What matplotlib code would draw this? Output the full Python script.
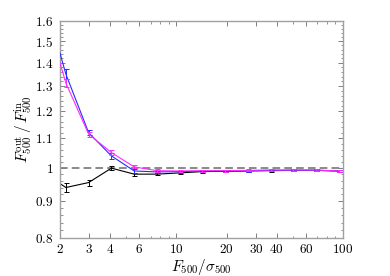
import matplotlib
matplotlib.use("Agg")
import matplotlib.pyplot as plt
from matplotlib.ticker import FixedLocator, FixedFormatter, NullFormatter

plt.rcParams['mathtext.fontset'] = 'cm'
plt.rcParams['font.family'] = 'serif'
plt.rcParams['font.serif'] = ['DejaVu Serif']
plt.rcParams['lines.scale_dashes'] = False

# data
snr = [1.58, 2.17, 2.97, 4.07, 5.58, 7.64, 10.5, 14.3, 19.6, 26.9, 36.8, 50.4, 69.0, 94.5]
ratio_blue = [1.75, 1.35, 1.12, 1.040, 0.991, 0.988, 0.989, 0.990, 0.991, 0.992, 0.993, 0.993, 0.993, 0.991]
err_blue = [0.03, 0.021, 0.009, 0.009, 0.005, 0.004, 0.003, 0.003, 0.003, 0.003, 0.003, 0.003, 0.003, 0.003]
ratio_magenta = [1.685, 1.312, 1.115, 1.051, 1.004, 0.992, 0.991, 0.992, 0.992, 0.993, 0.994, 0.994, 0.994, 0.991]
err_magenta = [0.025, 0.017, 0.009, 0.009, 0.005, 0.004, 0.003, 0.003, 0.003, 0.003, 0.003, 0.003, 0.003, 0.003]
ratio_black = [0.987, 0.94, 0.955, 1.0, 0.981, 0.981, 0.985, 0.989, 0.990, 0.991, 0.992, 0.993, 0.993, 0.991]
err_black = [0.01, 0.013, 0.009, 0.006, 0.005, 0.004, 0.003, 0.003, 0.003, 0.003, 0.003, 0.003, 0.003, 0.003]

xticks_major = [2, 3, 4, 6, 10, 20, 30, 40, 60, 100]
xticks_minor = [5, 7, 8, 9, 50, 70, 80, 90]
yticks_major = [0.8, 0.9, 1.0, 1.1, 1.2, 1.3, 1.4, 1.5, 1.6]
ytick_labels = ['0.8', '0.9', '1', '1.1', '1.2', '1.3', '1.4', '1.5', '1.6']

fig = plt.figure(figsize=(3.9, 2.76), dpi=100)
ax = fig.add_axes([60/390, 38/276, 283/390, 217/276])

ax.axhline(1.0, color='#808080', lw=1.3, dashes=(5.5, 3), zorder=1)

ax.errorbar(snr, ratio_black, yerr=err_black, color='black', lw=0.8,
            elinewidth=0.7, capsize=1.8, capthick=0.7, zorder=2)
ax.errorbar(snr, ratio_blue, yerr=err_blue, color='#2a2aff', lw=0.8,
            elinewidth=0.7, capsize=1.8, capthick=0.7, zorder=3)
ax.errorbar(snr, ratio_magenta, yerr=err_magenta, color='#ff2aff', lw=0.8,
            elinewidth=0.7, capsize=1.8, capthick=0.7, zorder=4)

ax.set_xscale('log')
ax.set_yscale('log')
ax.set_xlim(2, 100)
ax.set_ylim(0.8, 1.6)

ax.xaxis.set_major_locator(FixedLocator(xticks_major))
ax.xaxis.set_major_formatter(FixedFormatter([f'${t}$' for t in xticks_major]))
ax.xaxis.set_minor_locator(FixedLocator(xticks_minor))
ax.xaxis.set_minor_formatter(NullFormatter())

ymin = [round(0.8 + 0.02*i, 2) for i in range(41)]
ymin = [v for v in ymin if all(abs(v - m) > 1e-6 for m in yticks_major)]
ax.yaxis.set_major_locator(FixedLocator(yticks_major))
ax.yaxis.set_major_formatter(FixedFormatter([f'${t}$' for t in ytick_labels]))
ax.yaxis.set_minor_locator(FixedLocator(ymin))
ax.yaxis.set_minor_formatter(NullFormatter())

spine_col = '#a0a0a0'
for s in ax.spines.values():
    s.set_color(spine_col)
    s.set_linewidth(1.0)
ax.tick_params(which='both', direction='in', top=True, right=True,
               color='#808080', labelsize=9.5)
ax.tick_params(axis='x', pad=3.5)
ax.tick_params(axis='y', pad=5)
ax.tick_params(which='major', length=3.5, width=0.7)
ax.tick_params(which='minor', length=1.8, width=0.6)

ax.set_xlabel(r'$F_{500}/\sigma_{500}$', fontsize=11)
ax.set_ylabel(r'$F_{500}^{\rm out}\,/\,F_{500}^{\rm in}$', fontsize=11)
ax.xaxis.set_label_coords(0.5, -0.088)
ax.yaxis.set_label_coords(-0.09, 0.5)

fig.savefig('out.png', dpi=100)
